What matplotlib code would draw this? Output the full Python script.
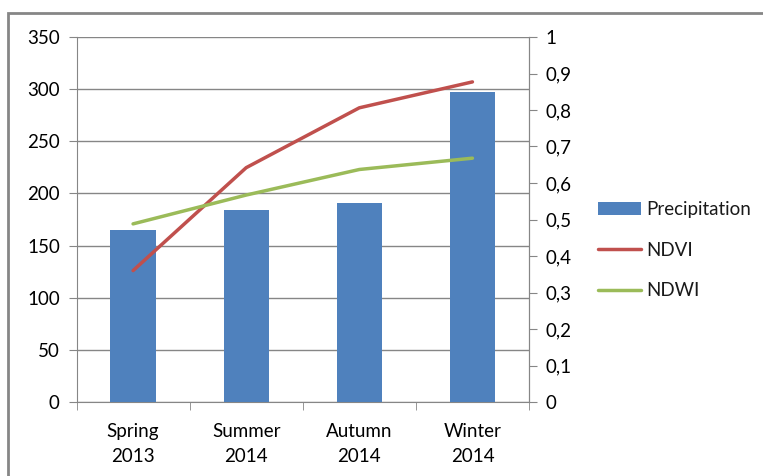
import matplotlib.pyplot as plt
import numpy as np
from matplotlib.patches import Rectangle

seasons = ['Spring\n2013', 'Summer\n2014', 'Autumn\n2014', 'Winter\n2014']
precip = [165, 184, 191, 297]
ndvi = [0.36, 0.642, 0.806, 0.877]
ndwi = [0.488, 0.567, 0.637, 0.668]

blue = '#4F81BD'
red = '#C0504D'
green = '#9BBB59'
gray = '#868686'

plt.rcParams['font.family'] = ['Lato', 'DejaVu Sans']
plt.rcParams['font.size'] = 13.5
plt.rcParams['text.color'] = '#1a1a1a'

W, H = 763, 476
fig = plt.figure(figsize=(W/100, H/100), dpi=100)
ax = fig.add_axes([76.5/W, 1-402/H, (529-76.5)/W, (402-37)/H])

x = np.arange(len(seasons))
ax.bar(x, precip, width=0.4, color=blue, zorder=3, label='Precipitation')
ax.set_xlim(-0.5, 3.5)
ax.set_ylim(0, 350)
ax.set_yticks(range(0, 351, 50))
ax.yaxis.grid(True, color=gray, lw=1)
ax.set_axisbelow(True)
ax.set_xticks(x)
ax.set_xticklabels(seasons, linespacing=1.55)
ax.set_xticks(np.arange(-0.5, 4, 1), minor=True)
ax.tick_params(axis='x', which='major', length=0, pad=15)
ax.tick_params(axis='x', which='minor', length=6, color=gray, direction='out')
ax.tick_params(axis='y', length=6, color=gray, pad=6)
ax.spines['top'].set_visible(False)
for s in ['left', 'bottom', 'right']:
    ax.spines[s].set_color(gray)

ax2 = ax.twinx()
ax2.plot(x, ndvi, color=red, lw=2.5, solid_capstyle='round', label='NDVI', zorder=4)
ax2.plot(x, ndwi, color=green, lw=2.5, solid_capstyle='round', label='NDWI', zorder=4)
ax2.set_ylim(0, 1)
ax2.set_yticks(np.arange(0, 1.01, 0.1))
ax2.set_yticklabels(['0'] + [f'0,{i}' for i in range(1, 10)] + ['1'])
ax2.tick_params(axis='y', length=6, color=gray, pad=6)
ax2.spines['top'].set_visible(False)
ax2.spines['right'].set_color(gray)
ax2.spines['left'].set_visible(False)
ax2.spines['bottom'].set_visible(False)

h1, l1 = ax.get_legend_handles_labels()
h2, l2 = ax2.get_legend_handles_labels()
fig.legend(h1 + h2, l1 + l2, loc='center left', bbox_to_anchor=(598/W, 1-250/H),
           frameon=False, handlelength=2.3, labelspacing=1.25, handletextpad=0.27,
           borderaxespad=0, borderpad=0, handleheight=0.65)

fig.patches.append(Rectangle((8/W, -0.1), 1.1, 1-13/H+0.1, transform=fig.transFigure,
                             fill=False, edgecolor=gray, lw=2))

fig.savefig('out.png', dpi=100)
